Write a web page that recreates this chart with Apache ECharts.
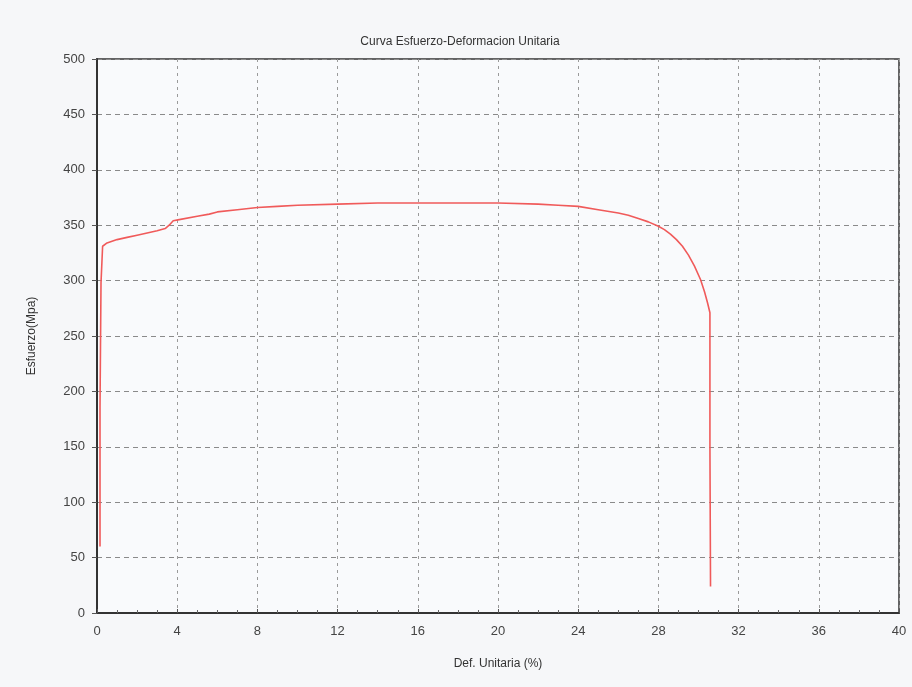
<!DOCTYPE html>
<html>
<head>
<meta charset="utf-8">
<title>Curva Esfuerzo-Deformacion Unitaria</title>
<script src="https://cdn.jsdelivr.net/npm/echarts@6/dist/echarts.min.js"></script>
<style>
  html, body { margin: 0; padding: 0; background: #f6f7f9; }
  #chart { width: 912px; height: 687px; }
</style>
</head>
<body>
<div id="chart"></div>
<script>
// Deformacion unitaria (%) y esfuerzo (MPa)
const strain = [0.15, 0.15, 0.2, 0.2, 0.28, 0.28, 0.5, 1, 1.5, 2, 2.5, 3, 3.4, 3.6, 3.8, 4.1, 5, 5.6, 6, 7, 8, 9, 10, 12, 14, 16, 18, 20, 22, 23, 24, 25, 26, 26.5, 27, 27.5, 28, 28.3, 28.6, 28.9, 29.2, 29.5, 29.8, 30.1, 30.3, 30.45, 30.57, 30.57, 30.6];
const stress = [60, 185, 185, 298, 298, 331, 334, 337, 339, 341, 343, 345, 347, 350, 354, 355, 358, 360, 362, 364, 366, 367, 368, 369, 370, 370, 370, 370, 369, 368, 367, 364, 361, 359, 356, 353, 349, 346, 342, 337, 331, 323, 313, 301, 290, 280, 271, 150, 24];

const xTicks = { min: 0, max: 40, interval: 4 };
const yTicks = { min: 0, max: 500, interval: 50 };

const chart = echarts.init(document.getElementById('chart'));

const points = strain.map((x, i) => [x, stress[i]]);

const font = 'Liberation Sans, Arial, sans-serif';
const axisText = { color: '#444', fontSize: 13, fontFamily: font };

chart.setOption({
  backgroundColor: '#f6f7f9',
  animation: false,
  title: {
    text: 'Curva Esfuerzo-Deformacion Unitaria',
    left: 455,
    top: 31,
    textAlign: 'center',
    textStyle: { color: '#333', fontSize: 12, fontWeight: 'normal', fontFamily: font }
  },
  grid: {
    left: 97,
    right: 13,
    top: 59,
    bottom: 74,
    show: true,
    backgroundColor: '#f9fafc',
    borderColor: '#333',
    borderWidth: 1.5
  },
  xAxis: {
    type: 'value',
    min: xTicks.min,
    max: xTicks.max,
    interval: xTicks.interval,
    name: 'Def. Unitaria (%)',
    nameLocation: 'middle',
    nameGap: 45,
    nameTextStyle: { color: '#333', fontSize: 12, fontFamily: font },
    axisLine: { lineStyle: { color: '#333', width: 2 } },
    axisTick: { show: true, inside: true, length: 4, lineStyle: { color: '#555' } },
    minorTick: { show: true, splitNumber: 4, length: 3, lineStyle: { color: '#666' } },
    axisLabel: Object.assign({ margin: 12 }, axisText),
    splitLine: { show: true, lineStyle: { color: '#9a9a9a', type: [3, 4], width: 1 } }
  },
  yAxis: {
    type: 'value',
    min: yTicks.min,
    max: yTicks.max,
    interval: yTicks.interval,
    name: 'Esfuerzo(Mpa)',
    nameLocation: 'middle',
    nameGap: 59,
    nameTextStyle: { color: '#333', fontSize: 12, fontFamily: font },
    axisLine: { show: true, lineStyle: { color: '#333', width: 2 } },
    axisTick: { show: true, length: 5, lineStyle: { color: '#555' } },
    axisLabel: Object.assign({ margin: 12 }, axisText),
    splitLine: { show: true, lineStyle: { color: '#8a8a8a', type: [5, 4], width: 1 } }
  },
  series: [{
    type: 'line',
    data: points,
    showSymbol: false,
    smooth: false,
    lineStyle: { color: '#f05a5a', width: 1.6 }
  }]
});
</script>
</body>
</html>
